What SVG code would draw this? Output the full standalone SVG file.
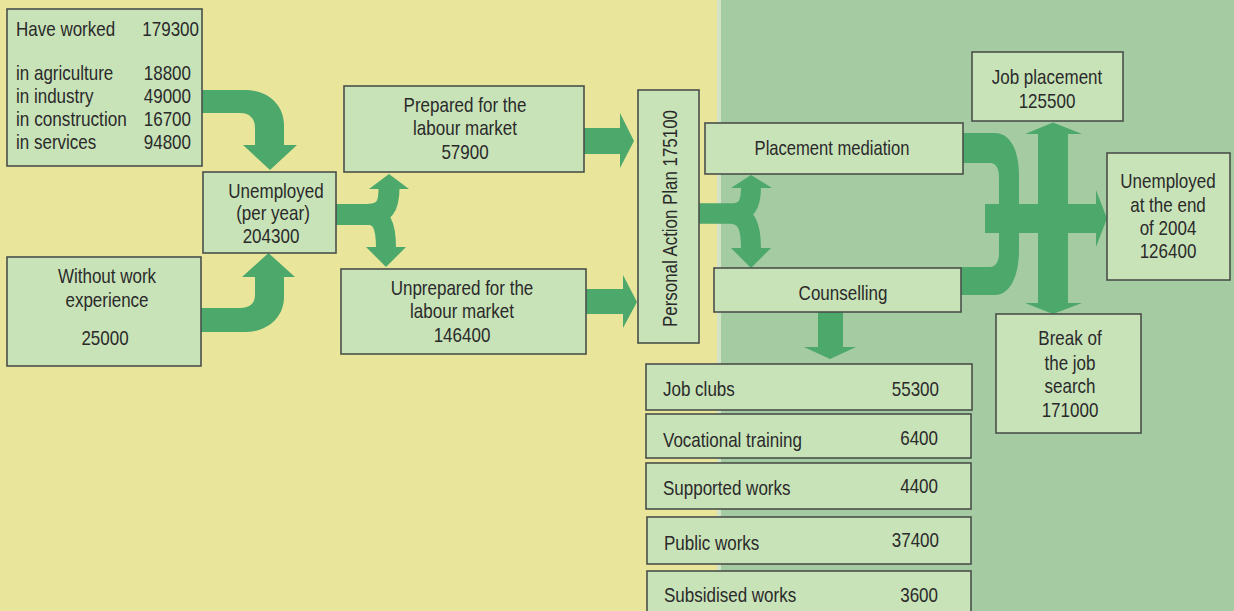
<svg xmlns="http://www.w3.org/2000/svg" width="1234" height="611" viewBox="0 0 1234 611">
<style>
.bx{fill:#C9E3B9;stroke:#4A4F4A;stroke-width:1.6}
.t{font-family:"Liberation Sans",Arial,sans-serif;font-size:20px;fill:#2A2A2A}
.c{text-anchor:middle}
.r{text-anchor:end}
.ar{fill:#4DA86C;stroke:none}
.st{fill:none;stroke:#4DA86C}
</style>
<rect x="0" y="0" width="719" height="611" fill="#E9E69C"/>
<rect x="717" y="0" width="4" height="611" fill="#D2E3C6"/>
<rect x="721" y="0" width="513" height="611" fill="#A5CBA3"/>

<g id="connectors">
  <path class="ar" d="M202,90 H245 C268,90 284,105 284,125 V145 H297 L270,170 L243,145 H255 V128 C255,119 250,113 240,113 H202 Z"/>
  <path class="ar" d="M201,332 H245 C268,332 284,317 284,297 V277 H295 L268.5,253 L242,277 H255 V295 C255,303 250,308 240,308 H201 Z"/>
  <path class="st" stroke-width="21" d="M336,214.5 H366 C385,214.5 389,206 389,188"/>
  <path class="st" stroke-width="20" d="M336,214.5 H366 C382,214.5 386,226 386,248"/>
  <polygon class="ar" points="369,189 409,189 389,174"/>
  <polygon class="ar" points="366,247 406,247 386,267"/>
  <rect class="ar" x="584" y="128" width="37" height="26"/>
  <polygon class="ar" points="620,113 620,168 634,141"/>
  <rect class="ar" x="586" y="289" width="38" height="25"/>
  <polygon class="ar" points="623,275 623,328 637,302"/>
  <path class="st" stroke-width="20" d="M699,213.5 H728 C747,213.5 751,205 751,187"/>
  <path class="st" stroke-width="20" d="M699,213.5 H728 C747,213.5 751,226 751,249"/>
  <polygon class="ar" points="731,188 772,188 751,175"/>
  <polygon class="ar" points="731,248 771,248 751,268"/>
  <path class="ar" d="M963,133 H995 C1010,133 1019,150 1019,175 V250 C1019,276 1010,295 995,295 H960 V267 H990 C996,267 999,261 999,253 V177 C999,169 996,163 990,163 H963 Z"/>
  <rect class="ar" x="985" y="204" width="112" height="29"/>
  <polygon class="ar" points="1096,190 1096,247 1107,218.5"/>
  <rect class="ar" x="1038" y="133" width="30" height="171"/>
  <polygon class="ar" points="1025,134 1082,134 1053,122.5"/>
  <polygon class="ar" points="1025,303 1082,303 1053,314"/>
  <rect class="ar" x="818" y="312" width="25" height="36"/>
  <polygon class="ar" points="804,347 856,347 830,359"/>
</g>

<g id="have-worked">
  <rect class="bx" x="7" y="9" width="195" height="157"/>
  <text class="t" transform="translate(16 36) scale(.85 1)">Have worked</text>
  <text class="t r" transform="translate(199 36) scale(.85 1)">179300</text>
  <text class="t" transform="translate(16 80) scale(.85 1)">in agriculture</text>
  <text class="t r" transform="translate(191 80) scale(.85 1)">18800</text>
  <text class="t" transform="translate(16 103) scale(.85 1)">in industry</text>
  <text class="t r" transform="translate(191 103) scale(.85 1)">49000</text>
  <text class="t" transform="translate(16 126) scale(.86 1)">in construction</text>
  <text class="t r" transform="translate(191 126) scale(.85 1)">16700</text>
  <text class="t" transform="translate(16 149) scale(.85 1)">in services</text>
  <text class="t r" transform="translate(191 149) scale(.85 1)">94800</text>
</g>
<g id="without-work">
  <rect class="bx" x="7" y="257" width="194" height="109"/>
  <text class="t c" transform="translate(107 283) scale(.85 1)">Without work</text>
  <text class="t c" transform="translate(107 307) scale(.85 1)">experience</text>
  <text class="t c" transform="translate(105 345) scale(.85 1)">25000</text>
</g>
<g id="unemployed">
  <rect class="bx" x="203" y="172" width="133" height="81"/>
  <text class="t c" transform="translate(276 198) scale(.85 1)">Unemployed</text>
  <text class="t c" transform="translate(273 220) scale(.85 1)">(per year)</text>
  <text class="t c" transform="translate(271 243) scale(.85 1)">204300</text>
</g>
<g id="prepared">
  <rect class="bx" x="344" y="86" width="240" height="86"/>
  <text class="t c" transform="translate(465 112) scale(.85 1)">Prepared for the</text>
  <text class="t c" transform="translate(465 135) scale(.85 1)">labour market</text>
  <text class="t c" transform="translate(465 159) scale(.85 1)">57900</text>
</g>
<g id="unprepared">
  <rect class="bx" x="341" y="269" width="245" height="85"/>
  <text class="t c" transform="translate(462 295) scale(.85 1)">Unprepared for the</text>
  <text class="t c" transform="translate(462 318) scale(.85 1)">labour market</text>
  <text class="t c" transform="translate(462 342) scale(.85 1)">146400</text>
</g>
<g id="pap">
  <rect class="bx" x="638" y="90" width="61" height="253"/>
  <text class="t c" transform="translate(677 218.5) rotate(-90) scale(.845 1)">Personal Action Plan 175100</text>
</g>
<g id="placement-mediation">
  <rect class="bx" x="705" y="123" width="258" height="51"/>
  <text class="t c" transform="translate(832 155) scale(.83 1)">Placement mediation</text>
</g>
<g id="counselling">
  <rect class="bx" x="714" y="268" width="247" height="44"/>
  <text class="t c" transform="translate(843 300) scale(.85 1)">Counselling</text>
</g>
<g id="job-placement">
  <rect class="bx" x="972" y="52" width="151" height="69"/>
  <text class="t c" transform="translate(1047 84) scale(.85 1)">Job placement</text>
  <text class="t c" transform="translate(1047 108) scale(.85 1)">125500</text>
</g>
<g id="unemployed-end">
  <rect class="bx" x="1107" y="153" width="123" height="127"/>
  <text class="t c" transform="translate(1168 188) scale(.85 1)">Unemployed</text>
  <text class="t c" transform="translate(1168 212) scale(.85 1)">at the end</text>
  <text class="t c" transform="translate(1168 235) scale(.85 1)">of 2004</text>
  <text class="t c" transform="translate(1168 258) scale(.85 1)">126400</text>
</g>
<g id="break">
  <rect class="bx" x="996" y="314" width="145" height="119"/>
  <text class="t c" transform="translate(1070 345) scale(.85 1)">Break of</text>
  <text class="t c" transform="translate(1070 370) scale(.85 1)">the job</text>
  <text class="t c" transform="translate(1070 393) scale(.85 1)">search</text>
  <text class="t c" transform="translate(1070 417) scale(.85 1)">171000</text>
</g>
<g id="job-clubs">
  <rect class="bx" x="646" y="364" width="326" height="46"/>
  <text class="t" transform="translate(663 396) scale(.85 1)">Job clubs</text>
  <text class="t r" transform="translate(939 396) scale(.85 1)">55300</text>
</g>
<g id="vocational">
  <rect class="bx" x="646" y="414" width="325" height="44"/>
  <text class="t" transform="translate(663 447) scale(.85 1)">Vocational training</text>
  <text class="t r" transform="translate(938 445) scale(.85 1)">6400</text>
</g>
<g id="supported">
  <rect class="bx" x="646" y="463" width="325" height="46"/>
  <text class="t" transform="translate(663 495) scale(.85 1)">Supported works</text>
  <text class="t r" transform="translate(938 493) scale(.85 1)">4400</text>
</g>
<g id="public">
  <rect class="bx" x="647" y="517" width="324" height="47"/>
  <text class="t" transform="translate(664 550) scale(.85 1)">Public works</text>
  <text class="t r" transform="translate(939 547) scale(.85 1)">37400</text>
</g>
<g id="subsidised">
  <rect class="bx" x="647" y="571" width="324" height="45"/>
  <text class="t" transform="translate(664 602) scale(.85 1)">Subsidised works</text>
  <text class="t r" transform="translate(938 602) scale(.85 1)">3600</text>
</g>
</svg>
